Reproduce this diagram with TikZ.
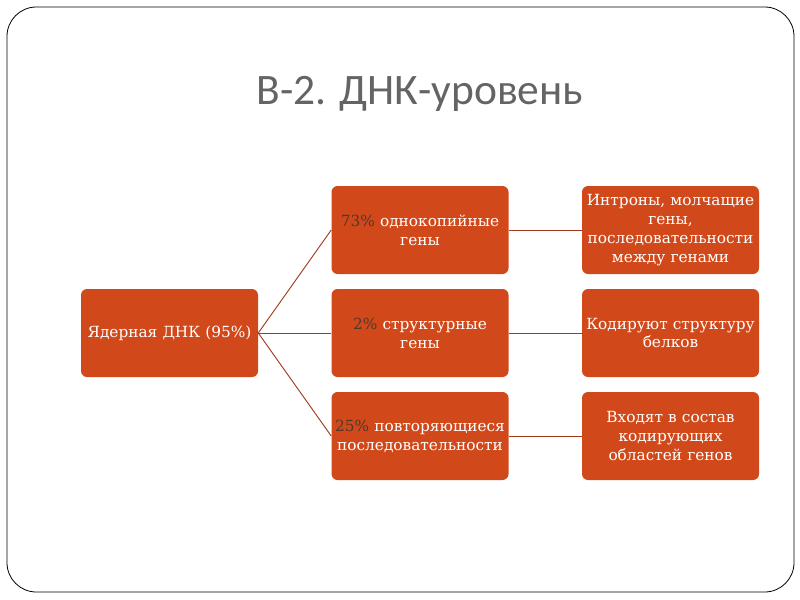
\documentclass[tikz,border=0pt]{standalone}
\usepackage{fontspec}
\setmainfont{DejaVu Serif}
\newfontfamily\titlefont{Carlito}
\definecolor{boxfill}{RGB}{209,73,26}
\definecolor{linecol}{RGB}{160,60,30}
\definecolor{pct}{RGB}{85,55,40}
\definecolor{titlegray}{RGB}{100,100,100}
\begin{document}
\begin{tikzpicture}[x=0.75pt,y=-0.75pt,
  obox/.style={fill=boxfill, draw=none, rounded corners=4.5pt, minimum width=132.75pt, minimum height=66pt, text width=130pt, align=center, text=white, font=\fontsize{11.5}{14.2}\selectfont, inner sep=0pt},
  conn/.style={draw=linecol, line width=0.7pt}]
\useasboundingbox (0,0) rectangle (800,600);
\draw[black, line width=0.6pt, rounded corners=22pt] (7,7) rectangle (794,592);
\node[text=titlegray, font=\titlefont\fontsize{32.6}{38}\selectfont] (title) at (420,94) {В-2. ДНК-уровень};
\node[obox] (root) at (169.5,333) {Ядерная ДНК (95\%)};
\node[obox] (m1) at (420,230) {\textcolor{pct}{73\%} однокопийные\\гены};
\node[obox] (m2) at (420,333) {\textcolor{pct}{2\%} структурные\\гены};
\node[obox] (m3) at (420,436) {\textcolor{pct}{25\%} повторяющиеся\\последовательности};
\node[obox] (r1) at (670.5,230) {Интроны, молчащие\\гены,\\последовательности\\между генами};
\node[obox] (r2) at (670.5,333) {Кодируют структуру\\белков};
\node[obox] (r3) at (670.5,436) {Входят в состав\\кодирующих\\областей генов};
\draw[conn] (root.east) -- (m1.west);
\draw[conn] (root.east) -- (m2.west);
\draw[conn] (root.east) -- (m3.west);
\draw[conn] (m1.east) -- (r1.west);
\draw[conn] (m2.east) -- (r2.west);
\draw[conn] (m3.east) -- (r3.west);
\end{tikzpicture}
\end{document}
